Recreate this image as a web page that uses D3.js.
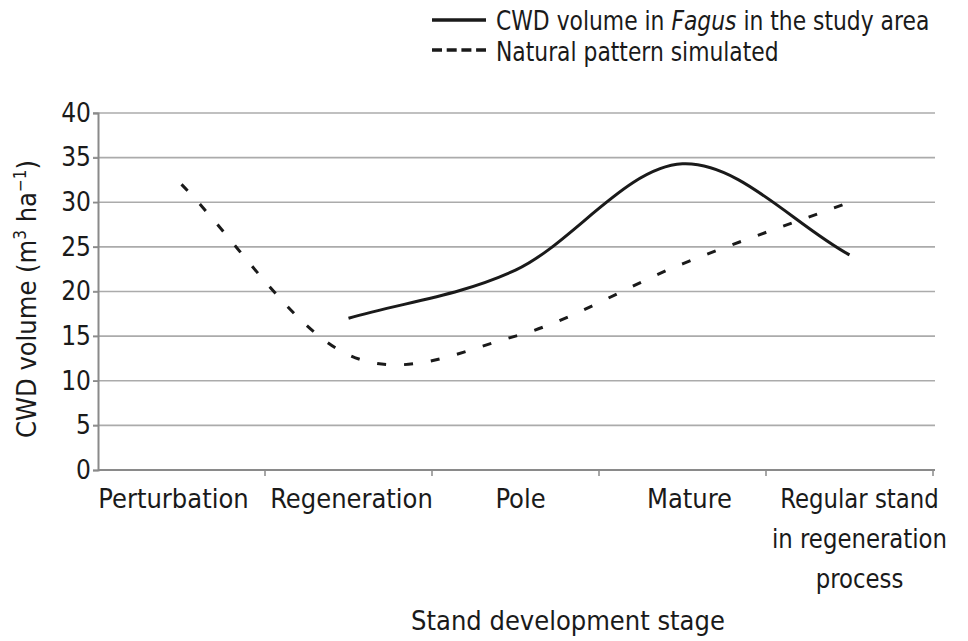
<!DOCTYPE html>
<html>
<head>
<meta charset="utf-8">
<script src="https://cdn.jsdelivr.net/npm/d3@7"></script>
<style>
  body { margin: 0; background: #fff; }
  svg { display: block; }
  text { font-family: "Liberation Sans Narrow", "DejaVu Sans Condensed", "Roboto Condensed", sans-serif; fill: #1a1a1a; }
</style>
</head>
<body>
<svg id="chart" width="968" height="641"></svg>
<script>
const stages = ["Perturbation", "Regeneration", "Pole", "Mature", "Regular stand|in regeneration|process"];
const fagusValues = [null, 17.0, 22.4, 34.3, 24.1];
const naturalValues = [32.0, 12.9, 15.0, 23.1, 30.0];
const yTicks = [0, 5, 10, 15, 20, 25, 30, 35, 40];

const svg = d3.select("#chart");
const margin = {left: 98, right: 35, top: 113, bottom: 171};
const width = 968 - margin.left - margin.right;
const height = 641 - margin.top - margin.bottom;

const g = svg.append("g").attr("transform", `translate(${margin.left},${margin.top})`);

// categories sit in bands, points at band centres (like an Excel line chart)
const x = d3.scaleBand().domain(stages).range([0, width]);
const y = d3.scaleLinear().domain([0, 40]).range([height, 0]);

// Excel-style smoothing: cardinal bezier inside, chord tangent at the ends
function smoothPath(pts) {
  let d = `M${pts[0][0]},${pts[0][1]}`;
  for (let i = 0; i < pts.length - 1; i++) {
    const p0 = pts[i], p1 = pts[i + 1];
    const prev = pts[i - 1], next = pts[i + 2];
    const t0 = prev ? [(p1[0] - prev[0]) / 2, (p1[1] - prev[1]) / 2] : [p1[0] - p0[0], p1[1] - p0[1]];
    const t1 = next ? [(next[0] - p0[0]) / 2, (next[1] - p0[1]) / 2] : [p1[0] - p0[0], p1[1] - p0[1]];
    d += `C${p0[0] + t0[0] / 3},${p0[1] + t0[1] / 3} ${p1[0] - t1[0] / 3},${p1[1] - t1[1] / 3} ${p1[0]},${p1[1]}`;
  }
  return d;
}

// gridlines
g.selectAll(".grid")
  .data(yTicks.filter(d => d > 0))
  .join("line")
  .attr("class", "grid")
  .attr("x1", -5).attr("x2", width + 2)
  .attr("y1", d => y(d)).attr("y2", d => y(d))
  .attr("stroke", "#ababab")
  .attr("stroke-width", 1.6);

// y axis
const yAxis = g.append("g")
  .call(d3.axisLeft(y).tickValues(yTicks).tickSize(5).tickPadding(2));
yAxis.select(".domain").attr("stroke", "#8a8a8a").attr("stroke-width", 2);
yAxis.selectAll(".tick line").attr("stroke", "#8a8a8a").attr("stroke-width", 1.5);
yAxis.selectAll(".tick text")
  .style("font-size", "26px")
  .attr("fill", "#1a1a1a");

// x axis: line with tick marks at band boundaries
const xAxis = g.append("g").attr("transform", `translate(0,${height})`);
xAxis.append("line")
  .attr("x1", 0).attr("x2", width + 2)
  .attr("stroke", "#8a8a8a").attr("stroke-width", 2.2);
xAxis.selectAll(".xtick")
  .data(stages)
  .join("line")
  .attr("class", "xtick")
  .attr("x1", d => x(d) + x.step())
  .attr("x2", d => x(d) + x.step())
  .attr("y1", 0).attr("y2", 6)
  .attr("stroke", "#8a8a8a").attr("stroke-width", 1.5);

const labelShift = [-8, 3, 5, 7, 10];
const labels = xAxis.selectAll(".xlabel")
  .data(stages)
  .join("text")
  .attr("class", "xlabel")
  .attr("text-anchor", "middle")
  .attr("transform", (d, i) => `translate(${x(d) + x.bandwidth() / 2 + labelShift[i]},0)`)
  .style("font-size", "27px");
labels.selectAll("tspan")
  .data(d => d.split("|"))
  .join("tspan")
  .attr("x", 0)
  .attr("y", (d, i) => 38 + i * 40)
  .text(d => d);
labels.filter((d, i) => i === 4).attr("transform", function () {
  return d3.select(this).attr("transform") + " scale(0.94,1)";
});

// axis titles
svg.append("text")
  .attr("x", 568).attr("y", 630)
  .attr("text-anchor", "middle")
  .style("font-size", "27px")
  .text("Stand development stage");

const yTitle = svg.append("text")
  .attr("transform", "translate(36,299) rotate(-90)")
  .attr("text-anchor", "middle")
  .style("font-size", "27px");
yTitle.append("tspan").text("CWD volume (m");
yTitle.append("tspan").attr("dy", -10).style("font-size", "17px").text("3");
yTitle.append("tspan").attr("dy", 10).text(" ha");
yTitle.append("tspan").attr("dy", -10).style("font-size", "17px").text("\u22121");
yTitle.append("tspan").attr("dy", 10).text(")");

// lines
const toPts = vals => stages
  .map((s, i) => ({s, v: vals[i]}))
  .filter(d => d.v != null)
  .map(d => [x(d.s) + x.bandwidth() / 2, y(d.v)]);

g.append("path")
  .attr("d", smoothPath(toPts(naturalValues)))
  .attr("fill", "none")
  .attr("stroke", "#1a1a1a")
  .attr("stroke-width", 3)
  .attr("stroke-dasharray", "9,18");

g.append("path")
  .attr("d", smoothPath(toPts(fagusValues)))
  .attr("fill", "none")
  .attr("stroke", "#1a1a1a")
  .attr("stroke-width", 3);

// legend
const legend = svg.append("g").attr("transform", "translate(432,0)");
legend.append("line")
  .attr("x1", 0).attr("x2", 54).attr("y1", 20).attr("y2", 20)
  .attr("stroke", "#1a1a1a").attr("stroke-width", 3.5);
legend.append("line")
  .attr("x1", 0).attr("x2", 54).attr("y1", 50).attr("y2", 50)
  .attr("stroke", "#1a1a1a").attr("stroke-width", 3.5)
  .attr("stroke-dasharray", "10,4.7");

const legendText = legend.append("g").attr("transform", "translate(64,0) scale(0.9,1)");
const t1 = legendText.append("text").attr("y", 30).style("font-size", "27px");
t1.append("tspan").text("CWD volume in ");
t1.append("tspan").style("font-style", "italic").text("Fagus");
t1.append("tspan").text(" in the study area");
legendText.append("text").attr("y", 61).style("font-size", "27px")
  .text("Natural pattern simulated");
</script>
</body>
</html>
